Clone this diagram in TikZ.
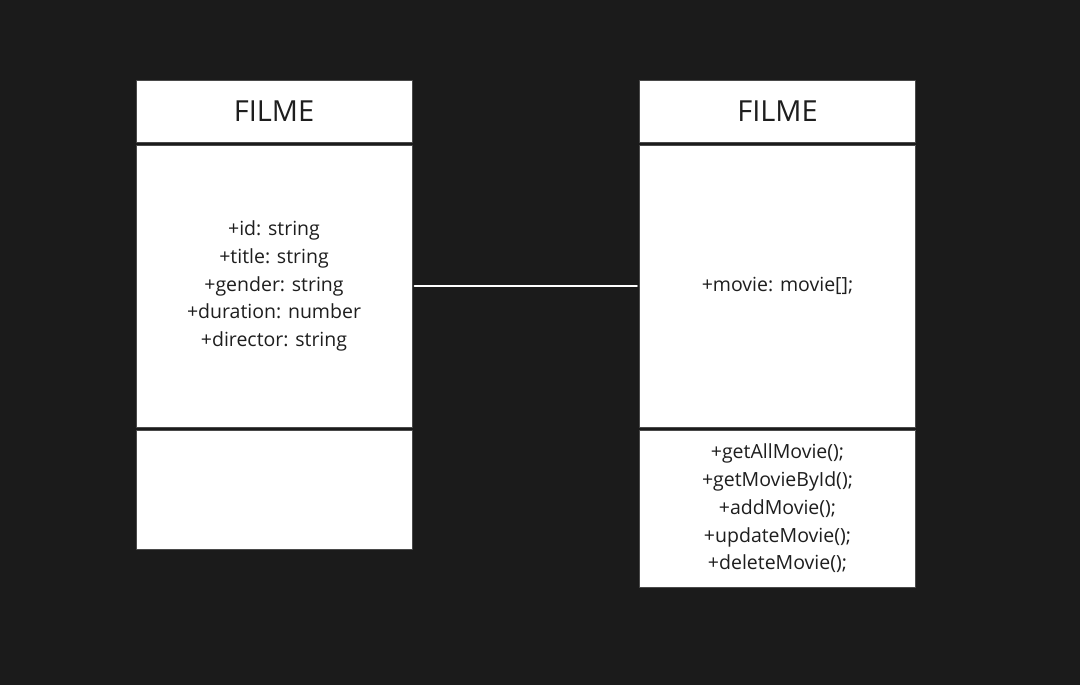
\documentclass[tikz,border=0pt]{standalone}
\usepackage{fontspec}
\setmainfont{Open Sans}
\definecolor{bgdark}{HTML}{1B1B1B}
\definecolor{ink}{HTML}{1E1E1E}
\definecolor{rim}{HTML}{4A4A4A}
\begin{document}
\begin{tikzpicture}[x=1pt, y=-1pt, font=\fontsize{19.5}{27.7}\selectfont, line join=round, line cap=round,
	part/.style={draw=rim, line width=1pt, fill=white, text=ink, minimum width=276pt, inner sep=0pt, align=center},
	head/.style={part, minimum height=61pt, font=\fontsize{29}{34}\selectfont}]
		\def\xl{274} \def\xr{777.5}
		\fill[bgdark] (0,0) rectangle (1080,685);
		\useasboundingbox (0,0) rectangle (1080,685);
		% left class
		\node[head] (headL) at (\xl,111.5) {FILME};
		\node[part, minimum height=282pt] (attrL) at (\xl,286) {+id: string\\+title: string\\+gender: string\\+duration: number\\+director: string};
		\node[part, minimum height=119pt] (opsL) at (\xl,489.5) {};
		% right class
		\node[head] (headR) at (\xr,111.5) {FILME};
		\node[part, minimum height=282pt] (attrR) at (\xr,286) {+movie: movie[];};
		\node[part, minimum height=157pt] (opsR) at (\xr,508.5) {+getAllMovie();\\+getMovieById();\\+addMovie();\\+updateMovie();\\+deleteMovie();};
		\draw[white, line width=1.8pt, shorten <=2pt, shorten >=2pt] (attrL.east) -- (attrR.west);
\end{tikzpicture}
\end{document}
